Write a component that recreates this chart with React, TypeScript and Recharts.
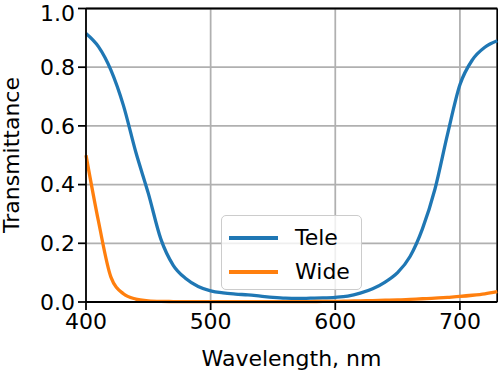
import React from "react";
import {
  LineChart, Line, XAxis, YAxis, CartesianGrid, Legend, ReferenceLine,
} from "recharts";

const wavelengths = [
  400, 410, 420, 430, 440, 450, 460, 470, 480, 490,
  500, 510, 520, 530, 540, 550, 560, 570, 580, 590,
  600, 610, 620, 630, 640, 650, 660, 670, 680, 690,
  700, 710, 720, 730,
];
const tele = [
  0.915, 0.87, 0.79, 0.67, 0.51, 0.37, 0.215, 0.125, 0.08, 0.053,
  0.038, 0.031, 0.027, 0.024, 0.02, 0.016, 0.013, 0.012, 0.013, 0.014,
  0.016, 0.02, 0.03, 0.045, 0.068, 0.1, 0.155, 0.25, 0.385, 0.57,
  0.74, 0.825, 0.868, 0.89,
];
const wide = [
  0.5, 0.275, 0.085, 0.028, 0.01, 0.004, 0.002, 0.0015, 0.001, 0.001,
  0.001, 0.001, 0.001, 0.001, 0.001, 0.001, 0.001, 0.0015, 0.0015, 0.002,
  0.002, 0.003, 0.004, 0.005, 0.006, 0.007, 0.009, 0.011, 0.013, 0.016,
  0.019, 0.023, 0.028, 0.035,
];
const xTicks = [400, 500, 600, 700];
const yTicks = [0, 0.2, 0.4, 0.6, 0.8, 1.0];

const series = [
  { key: "tele", name: "Tele", color: "#1f77b4" },
  { key: "wide", name: "Wide", color: "#ff7f0e" },
];

const data = wavelengths.map((w, i) => ({ w, tele: tele[i], wide: wide[i] }));

const FONT = "DejaVu Sans";
const FS = 22;
const LW = 1.76;

function LegendBox() {
  return (
    <div style={{
      width: 141, height: 75, boxSizing: "border-box",
      border: `${LW}px solid #cccccc`, borderRadius: 5,
      background: "rgba(255,255,255,0.8)", position: "relative",
      fontFamily: FONT, fontSize: FS, color: "#000",
    }}>
      {series.map((s, i) => (
        <div key={s.key} style={{ position: "absolute", left: 7, top: 9 + i * 34, height: 26, display: "flex", alignItems: "center" }}>
          <div style={{ width: 49, height: 3.3, background: s.color }} />
          <span style={{ marginLeft: 17, lineHeight: "26px" }}>{s.name}</span>
        </div>
      ))}
    </div>
  );
}

export default function App() {
  return (
    <div style={{ position: "absolute", left: 0, top: 0, background: "#fff" }}>
      <LineChart
        width={498}
        height={374}
        data={data}
        margin={{ top: 8.5, right: 0.7, bottom: 0, left: 0 }}
        style={{ fontFamily: FONT }}
      >
        <CartesianGrid stroke="#b0b0b0" strokeWidth={LW} />
        <XAxis
          dataKey="w"
          type="number"
          domain={[400, 730]}
          ticks={xTicks}
          height={72}
          tickSize={8}
          tickMargin={3}
          axisLine={{ stroke: "#000", strokeWidth: LW }}
          tickLine={{ stroke: "#000", strokeWidth: LW }}
          tick={{ fill: "#000", fontSize: FS, fontFamily: FONT }}
          label={() => (
            <text x={291.5} y={366} textAnchor="middle" fontSize={FS} fontFamily={FONT} fill="#000">
              Wavelength, nm
            </text>
          )}
        />
        <YAxis
          type="number"
          domain={[0, 1]}
          ticks={yTicks}
          width={86}
          tickSize={8}
          tickMargin={3}
          tickFormatter={(v: number) => v.toFixed(1)}
          axisLine={{ stroke: "#000", strokeWidth: LW }}
          tickLine={{ stroke: "#000", strokeWidth: LW }}
          tick={{ fill: "#000", fontSize: FS, fontFamily: FONT }}
          label={() => (
            <text x={19} y={155} transform="rotate(-90 19 155)" textAnchor="middle" fontSize={FS} fontFamily={FONT} fill="#000">
              Transmittance
            </text>
          )}
        />
        <ReferenceLine y={1} stroke="#000" strokeWidth={LW} />
        <ReferenceLine x={730} stroke="#000" strokeWidth={LW} />
        {series.map((s) => (
          <Line
            key={s.key}
            dataKey={s.key}
            name={s.name}
            type="monotone"
            stroke={s.color}
            strokeWidth={3.3}
            dot={false}
            isAnimationActive={false}
          />
        ))}
        <Legend
          layout="vertical"
          align="center"
          verticalAlign="middle"
          content={() => <LegendBox />}
          wrapperStyle={{ position: "absolute", left: 221, top: 215, width: 141, height: 75 }}
        />
      </LineChart>
    </div>
  );
}
